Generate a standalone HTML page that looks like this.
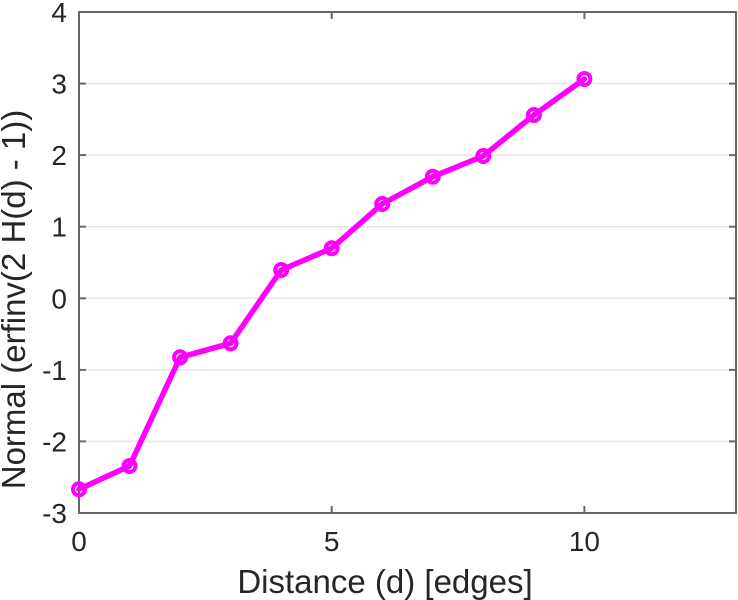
<!DOCTYPE html>
<html><head><meta charset="utf-8"><style>
html,body{margin:0;padding:0;background:#fff;}
svg{display:block;}
text{font-family:"Liberation Sans",Arial,sans-serif;fill:#262626;}
</style></head><body>
<svg width="738" height="600" viewBox="0 0 738 600" xmlns="http://www.w3.org/2000/svg">
<rect width="738" height="600" fill="#fff"/>
<g stroke="#e6e6e6" stroke-width="1.5">
<line x1="79" y1="83.6" x2="736" y2="83.6"/>
<line x1="79" y1="155.1" x2="736" y2="155.1"/>
<line x1="79" y1="226.7" x2="736" y2="226.7"/>
<line x1="79" y1="298.3" x2="736" y2="298.3"/>
<line x1="79" y1="369.9" x2="736" y2="369.9"/>
<line x1="79" y1="441.4" x2="736" y2="441.4"/>
</g>
<g stroke="#666" stroke-width="2" fill="none">
<rect x="79" y="12" width="657" height="501"/>
<line x1="331.7" y1="513" x2="331.7" y2="506"/>
<line x1="584.4" y1="513" x2="584.4" y2="506"/>
<line x1="331.7" y1="12" x2="331.7" y2="19"/>
<line x1="584.4" y1="12" x2="584.4" y2="19"/>
<line x1="79" y1="83.6" x2="86" y2="83.6"/><line x1="736" y1="83.6" x2="729" y2="83.6"/>
<line x1="79" y1="155.1" x2="86" y2="155.1"/><line x1="736" y1="155.1" x2="729" y2="155.1"/>
<line x1="79" y1="226.7" x2="86" y2="226.7"/><line x1="736" y1="226.7" x2="729" y2="226.7"/>
<line x1="79" y1="298.3" x2="86" y2="298.3"/><line x1="736" y1="298.3" x2="729" y2="298.3"/>
<line x1="79" y1="369.9" x2="86" y2="369.9"/><line x1="736" y1="369.9" x2="729" y2="369.9"/>
<line x1="79" y1="441.4" x2="86" y2="441.4"/><line x1="736" y1="441.4" x2="729" y2="441.4"/>
</g>
<g font-size="28" text-anchor="end">
<text x="67" y="22">4</text>
<text x="67" y="93.6">3</text>
<text x="67" y="165.1">2</text>
<text x="67" y="236.7">1</text>
<text x="67" y="308.3">0</text>
<text x="67" y="379.9">-1</text>
<text x="67" y="451.4">-2</text>
<text x="67" y="523">-3</text>
</g>
<g font-size="28" text-anchor="middle">
<text x="79" y="551">0</text>
<text x="331.7" y="551">5</text>
<text x="584.4" y="551">10</text>
</g>
<text x="385" y="593" font-size="33" text-anchor="middle">Distance (d) [edges]</text>
<text transform="translate(25,299.5) rotate(-90)" font-size="33" text-anchor="middle">Normal (erfinv(2 H(d) - 1))</text>
<g stroke="#ff00ff" fill="none" stroke-linejoin="round" stroke-linecap="round">
<polyline stroke-width="5.5" points="79,489.3 129.5,466 180.1,357.3 230.6,343.3 281.2,270 331.7,248.3 382.2,204 432.8,176.7 483.3,156 533.9,115 584.4,79"/>
<g stroke-width="4">
<circle cx="79" cy="489.3" r="6"/>
<circle cx="129.5" cy="466" r="6"/>
<circle cx="180.1" cy="357.3" r="6"/>
<circle cx="230.6" cy="343.3" r="6"/>
<circle cx="281.2" cy="270" r="6"/>
<circle cx="331.7" cy="248.3" r="6"/>
<circle cx="382.2" cy="204" r="6"/>
<circle cx="432.8" cy="176.7" r="6"/>
<circle cx="483.3" cy="156" r="6"/>
<circle cx="533.9" cy="115" r="6"/>
<circle cx="584.4" cy="79" r="6"/>
</g>
</g>
</svg>
</body></html>
